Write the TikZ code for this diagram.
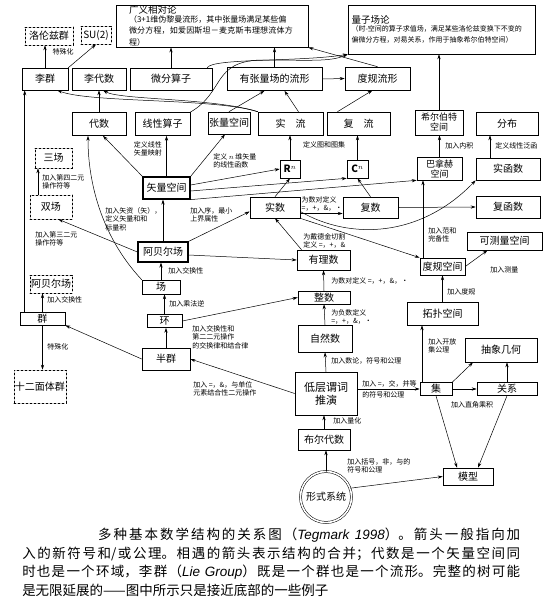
\documentclass[tikz,border=0pt]{standalone}
\usepackage{fontspec}
\setmainfont{Noto Sans CJK SC}
\newfontfamily\latinit{Liberation Sans}
\usepackage{tikz}
\usetikzlibrary{arrows.meta}
\XeTeXlinebreaklocale "zh"
\XeTeXlinebreakskip = 0pt plus 2pt

\tikzset{
  box/.style={draw, line width=0.6pt, inner sep=1pt, align=center, font=\fontsize{10}{11.5}\selectfont},
  dbox/.style={box, dash pattern=on 2pt off 2pt},
  tbox/.style={box, line width=1.2pt},
  sz/.style 2 args={minimum width=#1pt, minimum height=#2pt},
  lbl/.style={font=\fontsize{7}{8.5}\selectfont, align=left, inner sep=0pt},
}

\begin{document}
\begin{tikzpicture}[x=1pt, y=-1pt, line cap=round, line width=0.5pt, >={Stealth[length=5pt,width=3.2pt]}]
  \useasboundingbox (0,0) rectangle (547,603);
  % physics at the top
  \node[dbox, sz={48}{18}] (lorentz) at (49,36) {洛伦兹群};
  \node[dbox, sz={30}{18}] (su) at (96,35) {SU(2)};
  \node[box, sz={192}{42}, text width=166pt, align=left] (gr) at (212,26)
    {{\fontsize{9.5}{11}\selectfont 广义相对论}\\[-1pt]
     {\fontsize{8}{9.5}\selectfont （3+1维伪黎曼流形，其中张量场满足某些偏\\微分方程，如爱因斯坦－麦克斯韦理想流体方程）}};
  \node[box, sz={187}{49}, text width=180pt, align=left] (qft) at (441.5,29.5)
    {{\fontsize{9.5}{11}\selectfont 量子场论}\\[-1pt]
     {\fontsize{7}{9}\selectfont （时-空间的算子求值场，满足某些洛伦兹变换下不变的\\偏微分方程，对易关系，作用于抽象希尔伯特空间）}};
  % manifolds and operators
  \node[box, sz={46}{22}] (lie) at (45,79) {李群};
  \node[box, sz={54}{22}] (liealg) at (99,79) {李代数};
  \node[box, sz={82}{22}] (diffop) at (171,79) {微分算子};
  \node[box, sz={95}{23}] (tman) at (274.5,79) {有张量场的流形};
  \node[box, sz={65}{23}] (riem) at (377.5,78.5) {度规流形};
  \node[box, sz={54}{23}] (alg) at (99,124) {代数};
  \node[box, sz={55}{23}] (linop) at (162.5,124) {线性算子};
  \node[box, sz={42}{22}] (tens) at (229,123) {张量空间};
  \node[box, sz={65}{23}] (rman) at (290.5,123.5) {实\quad 流};
  \node[box, sz={63}{23}] (cman) at (358.5,123.5) {复\quad 流};
  \node[box, sz={48}{25}, font=\fontsize{9}{10}\selectfont] (hilb) at (439,122.5) {希尔伯特\\空间};
  \node[box, sz={62}{23}] (distr) at (507,123.5) {分布};
  % vector spaces, numbers, functions
  \node[dbox, sz={37}{20}] (tri) at (53.5,158) {三场};
  \node[tbox, sz={47}{22}] (vec) at (166.5,188) {矢量空间};
  \node[box, sz={20}{18}] (rn) at (290,169) {$\mathbf{R}^n$};
  \node[box, sz={21}{18}] (cn) at (357.5,169) {$\mathbf{C}^n$};
  \node[box, sz={45}{23}, font=\fontsize{9}{10}\selectfont] (ban) at (439.5,168.5) {巴拿赫\\空间};
  \node[box, sz={64}{22}] (rfun) at (508,169) {实函数};
  \node[dbox, sz={42}{24}] (dbl) at (51,207) {双场};
  \node[box, sz={50}{21}] (real) at (275,207.5) {实数};
  \node[box, sz={55}{21}] (cplx) at (370.5,207.5) {复数};
  \node[box, sz={64}{22}] (cfun) at (508,207) {复函数};
  \node[tbox, sz={50}{20}] (abf) at (163,252) {阿贝尔场};
  \node[box, sz={75}{18}] (meas) at (504.5,241) {可测量空间};
  \node[box, sz={53}{20}] (rat) at (323.5,260) {有理数};
  \node[box, sz={45}{17}] (met) at (442.5,266.5) {度规空间};
  % algebraic structures
  \node[dbox, sz={42}{18}] (abg) at (51,284) {阿贝尔场};
  \node[box, sz={38}{14}] (fld) at (161,287) {场};
  \node[box, sz={52}{13}] (int) at (324,297.5) {整数};
  \node[box, sz={71}{23}] (top) at (442.5,313.5) {拓扑空间};
  \node[box, sz={45}{13}] (grp) at (42.5,318.5) {群};
  \node[box, sz={35}{13}] (ring) at (164.5,321) {环};
  \node[box, sz={54}{27}] (nat) at (325,338.5) {自然数};
  \node[box, sz={72}{24}] (geo) at (501,350) {抽象几何};
  \node[box, sz={48}{22}] (semi) at (166,359) {半群};
  \node[dbox, sz={50}{33}] (dod) at (40,386.5) {十二面体群};
  \node[box, sz={62}{43}, font=\fontsize{11}{13}\selectfont] (pred) at (326,393.5) {低层谓词\\推演};
  \node[box, sz={32}{13}] (set) at (436,389) {集};
  \node[box, sz={60}{13}] (rel) at (507,389) {关系};
  \node[box, sz={52}{21}] (bool) at (324,439.5) {布尔代数};
  \node[box, sz={50}{17}] (model) at (468,476.5) {模型};
  \node[draw, circle, double, double distance=1.6pt, minimum size=51pt, inner sep=0pt,
        font=\fontsize{10}{11.5}\selectfont] (formal) at (326,497) {形式系统};

  % arrows into the top row
  \draw[->] (lie.north) -- (lie.north |- lorentz.south);
  \draw[->] (lie.north east) -- (su.south);
  \node[lbl] at (63,52) {特殊化};
  \draw[->] (diffop.north) -- (diffop.north |- gr.south);
  \draw[->] (tman.north) -- (tman.north |- gr.south);
  \draw[->] (tman.east) -- (riem.west);
  \draw[->] (riem.north) -- (gr.south east);
  \draw[->] ([xshift=-5pt]diffop.north east) .. controls (212,58) and (300,62) .. (qft.south west);
  \draw[->] (linop.north east) .. controls (225,92) and (212,62) .. (260,60) .. controls (310,60) and (330,62) .. (qft.south west);
  \draw[->] (hilb.north) -- (hilb.north |- qft.south);
  \draw[->] (alg.north) -- (liealg.south);
  \draw[->] (rman.north west) .. controls (215,98) and (90,103) .. ([xshift=-11pt]lie.south east);
  \draw[->] (rman.north west) .. controls (215,98) and (120,100) .. ([xshift=4pt]liealg.south);
  \draw[->] ([xshift=5pt]grp.north west) -- ([xshift=3pt]lie.south west);
  \draw[->] (tens.north) -- ([xshift=-10pt]tman.south);
  \draw[->] ([xshift=8pt]rman.north) -- ([xshift=10pt]tman.south);
  \draw[->] ([xshift=-21pt]cman.north) -- ([xshift=-5pt]riem.south);

  % vector spaces
  \draw[->] (vec.north west) -- ([xshift=4pt]alg.south);
  \draw[->] (fld.north west) .. controls (100,235) and (88,180) .. ([xshift=-11pt]alg.south);
  \draw[->] (vec.north) -- (vec.north |- linop.south);
  \node[lbl, anchor=east] at (162,149) {定义线性\\矢量映射};
  \draw[->] (vec.north east) -- ([xshift=-4pt]tens.south);
  \node[lbl, anchor=west] at (213,161) {定义 $n$ 维矢量\\的线性函数};
  \draw[->] ([yshift=3pt]vec.east) -- (rn.west);
  \draw[->] ([yshift=-3pt]vec.east) -- (cn.south west);
  \draw[->] (vec.south east) -- (ban.south west);
  \draw[->] (real.north) -- (rn.south);
  \draw[->] (cplx.north) -- (cn.south);
  \draw[->] (rn.north) -- (rn.north |- rman.south);
  \draw[->] (cn.north) -- (cn.north |- cman.south);
  \node[lbl] at (324,145) {定义图和图集};
  \draw[->] (ban.north) -- (ban.north |- hilb.south);
  \node[lbl, anchor=west] at (445,146) {加入内积};
  \draw[->] ([xshift=-18pt]rfun.north) -- ([xshift=-17pt]distr.south);
  \node[lbl, anchor=west] at (495,146) {定义线性泛函};
  \draw[->] (cplx.east) -- (cfun.west);
  \draw[->] ([xshift=-19.5pt]met.north) -- ([xshift=-16.5pt]ban.south);
  \node[lbl, anchor=west] at (428,235) {加入范和\\完备性};

  % real numbers
  \draw[->] ([yshift=-4pt]real.east) .. controls (350,240) and (420,238) .. (rfun.south west);
  \draw[->] (real.south east) -- (met.north west);
  \draw[->] ([yshift=-6pt]real.east) -- ([yshift=-6pt]cplx.west);
  \node[lbl] at (322,204) {为数对定义\\=，+，\&，·};
  \draw[->] ([xshift=-22pt]rat.north) -- (real.south);
  \node[lbl, anchor=west] at (303,241) {为戴德金切割\\定义 =，+，\&};

  % fields
  \draw[->] (abf.north east) -- ([yshift=-4pt]real.west);
  \node[lbl, anchor=west] at (190,215) {加入序，最小\\上界属性};
  \draw[->] ([yshift=-3pt]abf.east) -- (rat.west);
  \draw[->] (abf.north) -- (abf.north |- vec.south);
  \node[lbl, anchor=west] at (105,219) {加入矢资（矢），\\定义矢量和和\\标量积};
  \draw[->] (abf.west) -- ([xshift=-14pt]dbl.south east);
  \node[lbl, anchor=west] at (35,239) {加入第三二元\\操作符等};
  \draw[->] ([xshift=-13pt]dbl.north) -- ([xshift=-15.5pt]tri.south);
  \node[lbl, anchor=west] at (42,182) {加入第四二元\\操作符等};
  \draw[->] (fld.north) -- (fld.north |- abf.south);
  \node[lbl, anchor=west] at (168,271) {加入交换性};
  \draw[->] (ring.north) -- (ring.north |- fld.south);
  \node[lbl, anchor=west] at (169,304) {加入乘法逆};
  \draw[->] (ring.east) -- (int.west);
  \draw[->] (semi.north) -- (semi.north |- ring.south);
  \node[lbl, anchor=west] at (192,337) {加入交换性和\\第二二元操作\\的交换律和结合律};
  \draw[->] (semi.west) -- (grp.south east);
  \draw[->] (grp.north) -- (grp.north |- abg.south);
  \node[lbl, anchor=west] at (47,300) {加入交换性};
  \draw[->] (grp.south) -- (grp.south |- dod.north);
  \node[lbl, anchor=west] at (47,347) {特殊化};
  \draw[->] (pred.west) -- (semi.east);
  \node[lbl, anchor=west] at (193,389) {加入 =，\&，与单位\\元素结合性二元操作};

  % numbers and logic
  \draw[->] (nat.north) -- (int.south);
  \node[lbl, anchor=west] at (331,317) {为负数定义\\=，+，\&，·};
  \draw[->] (int.north) -- (rat.south);
  \node[lbl, anchor=west] at (331,281) {为数对定义 =，+，\&，·};
  \draw[->] (pred.north) -- (nat.south);
  \node[lbl, anchor=west] at (331,361) {加入数论，符号和公理};
  \draw[->] (pred.east |- set.west) -- (set.west);
  \node[lbl, anchor=south west] at (362,387) {加入 =，交，并等};
  \node[lbl, anchor=north west] at (362,391) {的符号和公理};
  \draw[->] ([xshift=-14pt]set.north) -- ([xshift=-20.5pt]top.south);
  \node[lbl, anchor=west] at (428,346) {加入开放\\集公理};
  \draw[->] (top.north) -- (met.south);
  \node[lbl, anchor=west] at (447,292) {加入度规};
  \draw[->] (met.east) -- ([xshift=-17pt]meas.south);
  \node[lbl, anchor=west] at (490,270) {加入测量};
  \draw[->] (set.north east) -- ([xshift=-28pt]geo.south);
  \draw[->] (rel.north) -- ([xshift=6pt]geo.south);
  \draw[->] (set.east) -- (rel.west);
  \node[lbl] at (472,405) {加入直角乘积};
  \draw[->] (set.south) -- ([xshift=-11pt]model.north);
  \draw[->] (rel.south) -- ([xshift=10pt]model.north);
  \draw[->] (formal.north) -- (formal.north |- bool.south);
  \draw[->] (bool.north) -- (bool.north |- pred.south);
  \node[lbl, anchor=west] at (333,421) {加入量化};
  \draw[->] (formal.20) -- (model.west);
  \node[lbl, anchor=west] at (347,466) {加入括号，非，与的\\符号和公理};

  % caption
  \node[anchor=north west, text width=498pt, align=justify, inner sep=0pt,
        font=\fontsize{13.5}{18.5}\selectfont] (cap) at (22,528)
    {\hspace*{76pt}多种基本数学结构的关系图（{\latinit\itshape Tegmark 1998}）。箭头一般指向加\linebreak
     入的新符号和/或公理。相遇的箭头表示结构的合并；代数是一个矢量空间同\linebreak
     时也是一个环域，李群（{\latinit\itshape Lie Group}）既是一个群也是一个流形。完整的树可能\linebreak
     是无限延展的——图中所示只是接近底部的一些例子};
\end{tikzpicture}
\end{document}
